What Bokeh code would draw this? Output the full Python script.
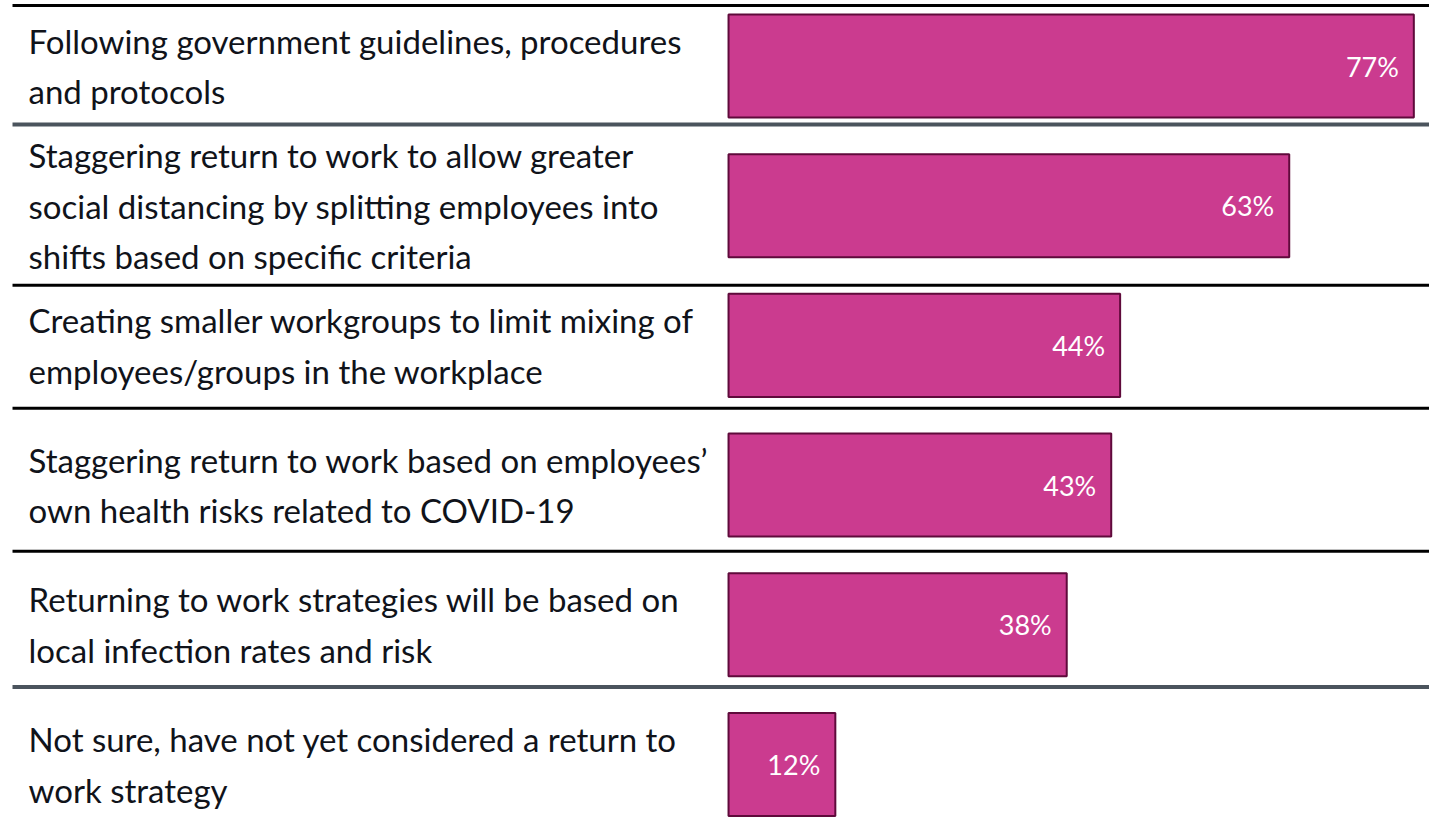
from bokeh.plotting import figure
from bokeh.models import Range1d, ColumnDataSource
from bokeh.embed import file_html
from bokeh.resources import INLINE
from bokeh.core.properties import value

categories = [
    "Following government guidelines, procedures\nand protocols",
    "Staggering return to work to allow greater\nsocial distancing by splitting employees into\nshifts based on specific criteria",
    "Creating smaller workgroups to limit mixing of\nemployees/groups in the workplace",
    "Staggering return to work based on employees\u2019\nown health risks related to COVID-19",
    "Returning to work strategies will be based on\nlocal infection rates and risk",
    "Not sure, have not yet considered a return to\nwork strategy",
]
values = [77, 63, 44, 43, 38, 12]
value_labels = [f"{v}%" for v in values]

# separator rules between rows (row units), their colours and widths
separator_rows = [-0.433, 0.419, 1.570, 2.450, 3.473, 4.446]
separator_colors = ["#000000", "#4b545d", "#000000", "#000000", "#000000", "#4b545d"]
separator_widths = [3, 4, 3, 3, 3, 4]

rows = list(range(len(categories)))

p = figure(
    width=1429, height=818,
    x_range=Range1d(-81.8, 78.76), y_range=Range1d(5.387, -0.469),
    output_backend="svg", toolbar_location=None,
    x_axis_location=None, y_axis_location=None,
    min_border=0,
)
p.grid.visible = False
p.outline_line_color = None
p.background_fill_color = "white"
p.border_fill_color = "white"

sep = ColumnDataSource(dict(
    y=separator_rows, color=separator_colors, w=separator_widths,
    x0=[-80.45] * len(separator_rows), x1=[80.0] * len(separator_rows),
))
p.segment(x0="x0", x1="x1", y0="y", y1="y", line_color="color", line_width="w", source=sep)

src = ColumnDataSource(dict(y=rows, v=values, lab=value_labels, cat=categories,
                            lx=[-78.65] * len(rows)))
p.hbar(y="y", left=0, right="v", height=0.738, fill_color="#cb3b8f",
       line_color="#5f0a3b", line_width=2, source=src)

p.text(x="v", y="y", text="lab", x_offset=-15, text_align="right",
       text_baseline="middle", text_color="white", text_font_size="27px",
       text_font=value("Lato"), source=src)

p.text(x="lx", y="y", text="cat", text_align="left", text_baseline="middle",
       text_color="#10131a", text_font_size="33px", text_line_height=1.27,
       text_font=value("Lato"), source=src)

open("out.html", "w").write(file_html(p, INLINE))
